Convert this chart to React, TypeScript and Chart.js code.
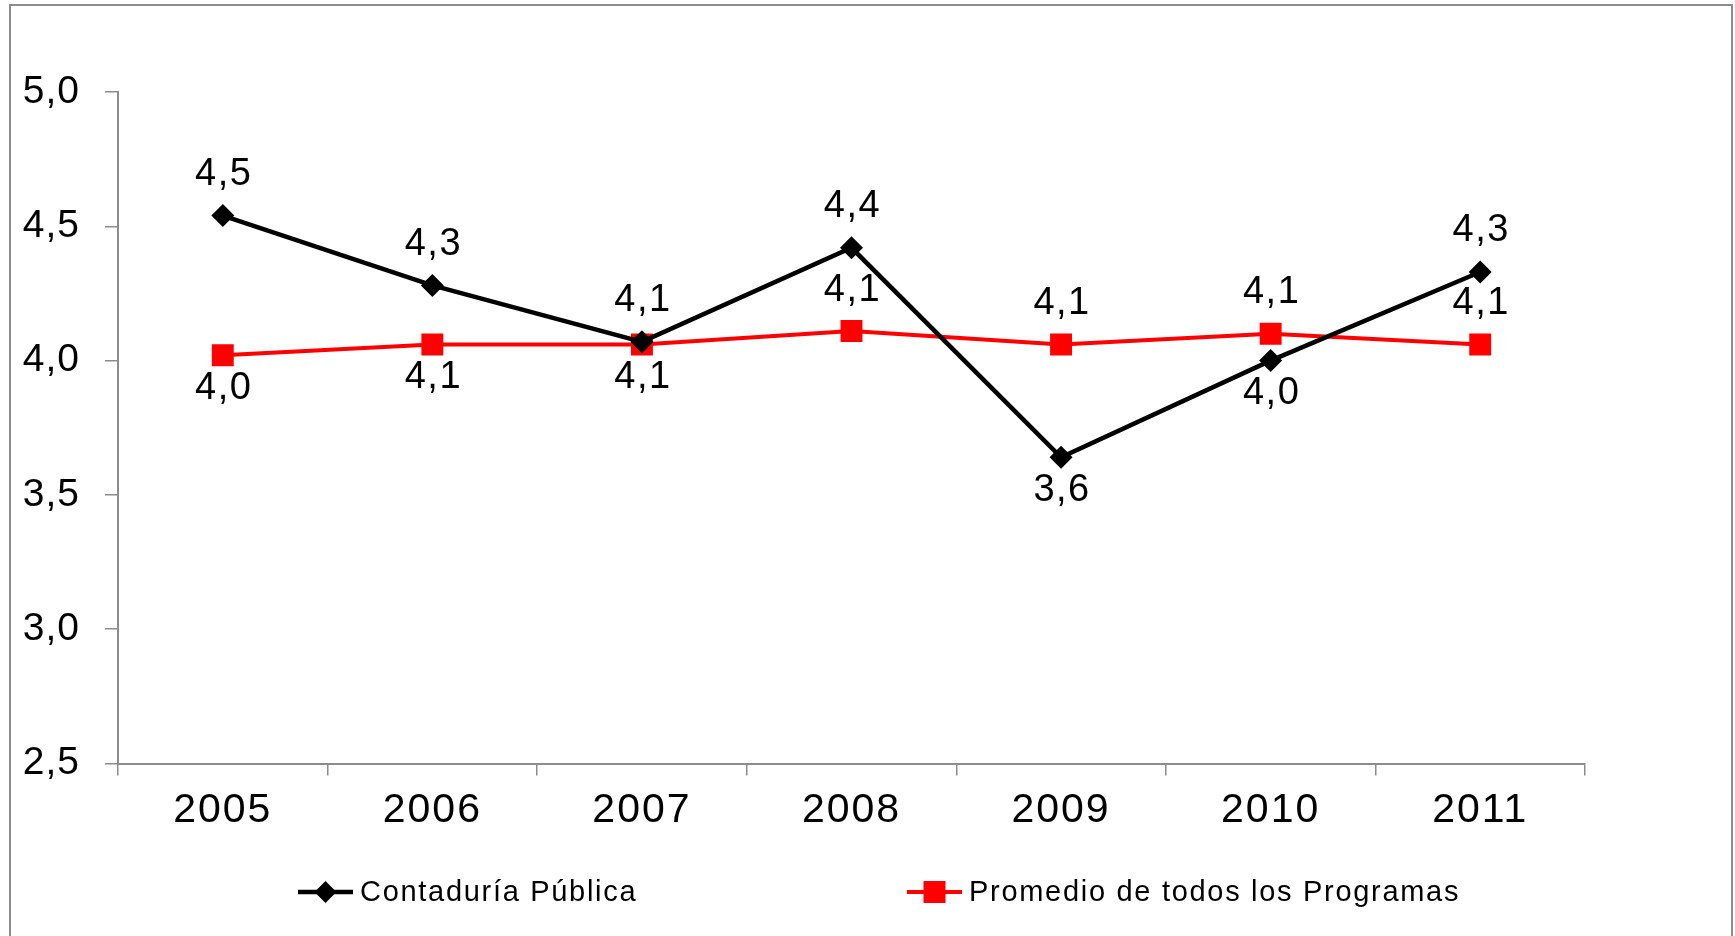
import { useEffect, useRef } from 'react';
import { Chart, registerables } from 'chart.js';

Chart.register(...registerables);

const categories = ['2005', '2006', '2007', '2008', '2009', '2010', '2011'];
const contaduriaValues = [4.54, 4.28, 4.07, 4.42, 3.64, 4.0, 4.33];
const promedioValues = [4.02, 4.06, 4.06, 4.11, 4.06, 4.1, 4.06];
const contaduriaLabelSide = ['above', 'above', 'above', 'above', 'below', 'below', 'above'];
const promedioLabelSide = ['below', 'below', 'below', 'above', 'above', 'above', 'above'];
const seriesNames = ['Contaduría Pública', 'Promedio de todos los Programas'];

const FONT = "'Liberation Sans', Arial, Helvetica, sans-serif";
const AXIS_GRAY = '#8c8c8c';

const fmt = (v: number) => v.toFixed(1).replace('.', ',');

const frameBorder = {
  id: 'frameBorder',
  afterDraw(chart: any) {
    const ctx = chart.ctx;
    ctx.save();
    ctx.strokeStyle = AXIS_GRAY;
    ctx.lineWidth = 2;
    ctx.beginPath();
    ctx.moveTo(10, chart.height + 5);
    ctx.lineTo(10, 5);
    ctx.lineTo(1732, 5);
    ctx.lineTo(1732, chart.height + 5);
    ctx.stroke();
    ctx.restore();
  },
};

const labelSpacing = {
  id: 'labelSpacing',
  afterUpdate(chart: any) {
    const spacing: Record<string, string> = { x: '2px', y: '1px' };
    Object.keys(spacing).forEach((id) => {
      const sc = chart.scales[id];
      if (!sc || sc._spacingPatched) return;
      const orig = sc.drawLabels.bind(sc);
      sc.drawLabels = (area: any) => {
        const ctx = chart.ctx;
        ctx.save();
        (ctx as any).letterSpacing = spacing[id];
        orig(area);
        ctx.restore();
      };
      sc._spacingPatched = true;
    });
  },
};

const dataLabels = {
  id: 'dataLabels',
  afterDatasetsDraw(chart: any) {
    const ctx = chart.ctx;
    const sides = [contaduriaLabelSide, promedioLabelSide];
    ctx.save();
    ctx.font = `38px ${FONT}`;
    (ctx as any).letterSpacing = '1.5px';
    ctx.fillStyle = '#000';
    ctx.textAlign = 'center';
    ctx.textBaseline = 'middle';
    chart.data.datasets.forEach((ds: any, i: number) => {
      const meta = chart.getDatasetMeta(i);
      meta.data.forEach((pt: any, j: number) => {
        const side = sides[i][j];
        const y = side === 'above' ? pt.y - 41 : pt.y + 33;
        ctx.fillText(fmt(ds.data[j]), pt.x + 1, y);
      });
    });
    ctx.restore();
  },
};

const customLegend = {
  id: 'customLegend',
  afterDraw(chart: any) {
    const ctx = chart.ctx;
    const starts = [298, 907];
    const y = 892;
    ctx.save();
    chart.data.datasets.forEach((ds: any, i: number) => {
      const x0 = starts[i];
      const lineLen = 55;
      ctx.strokeStyle = ds.borderColor;
      ctx.lineWidth = ds.borderWidth;
      ctx.beginPath();
      ctx.moveTo(x0, y);
      ctx.lineTo(x0 + lineLen, y);
      ctx.stroke();
      const cx = x0 + lineLen / 2;
      ctx.fillStyle = ds.pointBackgroundColor;
      ctx.beginPath();
      if (ds.pointStyle === 'rectRot') {
        const r = 11;
        ctx.moveTo(cx, y - r);
        ctx.lineTo(cx + r, y);
        ctx.lineTo(cx, y + r);
        ctx.lineTo(cx - r, y);
        ctx.closePath();
      } else {
        const h = 11;
        ctx.rect(cx - h, y - h, 2 * h, 2 * h);
      }
      ctx.fill();
      ctx.fillStyle = '#000';
      ctx.font = `29px ${FONT}`;
      (ctx as any).letterSpacing = '1.7px';
      ctx.textAlign = 'left';
      ctx.textBaseline = 'middle';
      ctx.fillText(ds.label, x0 + lineLen + 7, y + 1);
      (ctx as any).letterSpacing = '0px';
    });
    ctx.restore();
  },
};

export default function App() {
  const canvasRef = useRef<HTMLCanvasElement | null>(null);

  useEffect(() => {
    const canvas = canvasRef.current;
    if (!canvas) return;
    const chart = new Chart(canvas, {
      type: 'line',
      data: {
        labels: categories,
        datasets: [
          {
            label: seriesNames[0],
            data: contaduriaValues,
            borderColor: '#000000',
            backgroundColor: '#000000',
            pointBackgroundColor: '#000000',
            pointBorderColor: '#000000',
            borderWidth: 4.5,
            pointStyle: 'rectRot',
            pointRadius: 11.5,
            pointBorderWidth: 0,
            tension: 0,
          },
          {
            label: seriesNames[1],
            data: promedioValues,
            borderColor: '#ff0000',
            backgroundColor: '#ff0000',
            pointBackgroundColor: '#ff0000',
            pointBorderColor: '#ff0000',
            borderWidth: 4,
            pointStyle: 'rect',
            pointRadius: 15.5,
            pointBorderWidth: 0,
            tension: 0,
          },
        ],
      },
      options: {
        animation: false,
        responsive: false,
        maintainAspectRatio: false,
        layout: { padding: { top: 92, right: 150, left: 0, bottom: 0 } },
        plugins: {
          legend: { display: false },
          tooltip: { enabled: false },
        },
        scales: {
          x: {
            type: 'category',
            offset: true,
            grid: {
              offset: true,
              drawOnChartArea: false,
              drawTicks: true,
              tickLength: 12,
              color: AXIS_GRAY,
              lineWidth: 1.5,
            },
            border: { color: AXIS_GRAY, width: 2 },
            ticks: {
              color: '#000',
              font: { family: FONT, size: 41 },
              padding: 11,
              maxRotation: 0,
              autoSkip: false,
            },
            afterFit: (s: any) => {
              s.height = 172.5;
            },
          },
          y: {
            min: 2.5,
            max: 5,
            ticks: {
              stepSize: 0.5,
              color: '#000',
              font: { family: FONT, size: 39 },
              padding: 25,
              callback: (v: any) => fmt(Number(v)),
            },
            grid: {
              drawOnChartArea: false,
              drawTicks: true,
              tickLength: 13,
              color: AXIS_GRAY,
              lineWidth: 1.5,
            },
            border: { color: AXIS_GRAY, width: 2 },
            afterFit: (s: any) => {
              s.width = 118;
            },
          },
        },
      },
      plugins: [labelSpacing, frameBorder, dataLabels, customLegend],
    } as any);
    return () => chart.destroy();
  }, []);

  return (
    <div style={{ position: 'fixed', left: 0, top: 0, width: 1735, height: 936, background: '#fff' }}>
      <canvas ref={canvasRef} width={1735} height={936} style={{ display: 'block' }} />
    </div>
  );
}
